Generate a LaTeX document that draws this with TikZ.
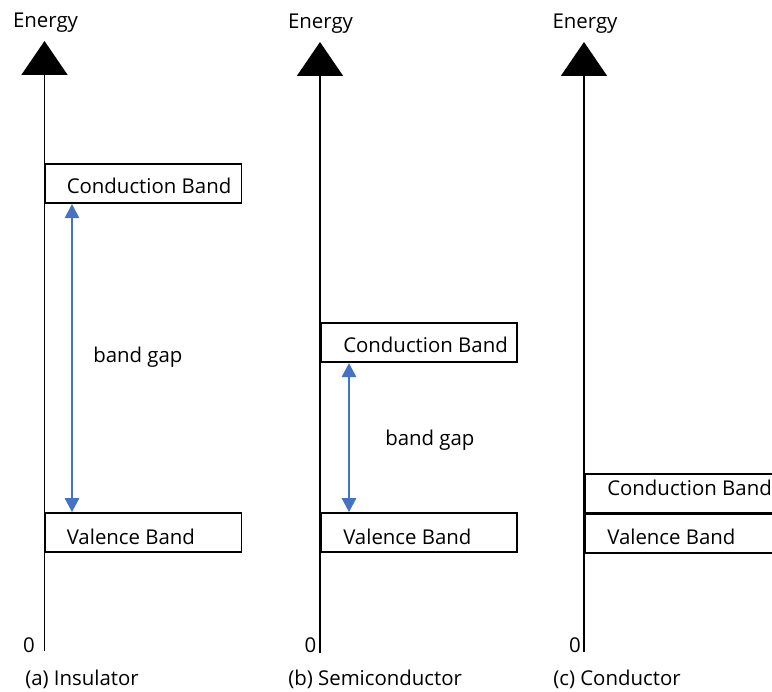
\documentclass[tikz,border=0pt]{standalone}
\usepackage{fontspec}
\setmainfont{Open Sans}
\usetikzlibrary{calc,arrows.meta}
\definecolor{gapblue}{HTML}{4472C4}
\tikzset{
  lbl/.style={inner sep=0pt, font=\fontsize{15.3}{18}\selectfont},
  band/.style={draw, line width=1.4pt, inner sep=0pt, minimum width=147pt, minimum height=29.5pt, anchor=north west},
  bandtext/.style={lbl, anchor=base west},
  axis/.style={line width=1.4pt, -{Triangle[width=34.5pt,length=25.5pt]}},
  gaparrow/.style={gapblue, line width=0.8pt, {Triangle[width=11pt,length=10.5pt]}-{Triangle[width=11pt,length=10.5pt]}}
}

\begin{document}
\begin{tikzpicture}[x=0.75pt, y=-0.75pt]
			%%%%% START %%%%%
			\useasboundingbox (0,0) rectangle (772,692);
			\clip (0,0) rectangle (772,692);
			
			% (a) insulator
			\coordinate (botA) at (44.5,651);
			\coordinate (topA) at (44.5,41);
			\draw[axis] (botA) -- (topA);
			\node[lbl] (enA) at (45.5,22.5) {Energy};
			\node[lbl] (zeroA) at (29,645) {0};
			\node[band] (condA) at (44.5,163) {};
			\node[band] (valA) at (44.5,512) {};
			\node[bandtext] (condtA) at ($(condA.south west)+(22,-11)$) {Conduction Band};
			\node[bandtext] (valtA) at ($(valA.south west)+(22,-9)$) {Valence Band};
			\coordinate (gA) at (72,0);
			\draw[gaparrow] (condA.south -| gA) -- (valA.north -| gA);
			\node[lbl, anchor=west] (gaptA) at (93,357) {band gap};
			\node[lbl, anchor=west] (capA) at (25,679.5) {(a) Insulator};
			
			% (b) semiconductor
			\coordinate (botB) at (320,653);
			\coordinate (topB) at (320,42);
			\draw[axis] (botB) -- (topB);
			\node[lbl] (enB) at (320.5,23.5) {Energy};
			\node[lbl] (zeroB) at (310.5,645) {0};
			\node[band] (condB) at (320,322) {};
			\node[band] (valB) at (320,512) {};
			\node[bandtext] (condtB) at ($(condB.south west)+(23,-11)$) {Conduction Band};
			\node[bandtext] (valtB) at ($(valB.south west)+(23,-9)$) {Valence Band};
			\coordinate (gB) at (349,0);
			\draw[gaparrow] (condB.south -| gB) -- (valB.north -| gB);
			\node[lbl, anchor=west] (gaptB) at (385,440) {band gap};
			\node[lbl, anchor=west] (capB) at (288,679.5) {(b) Semiconductor};
			
			% (c) conductor
			\coordinate (botC) at (584,652);
			\coordinate (topC) at (584,42);
			\draw[axis] (botC) -- (topC);
			\node[lbl] (enC) at (585,23.5) {Energy};
			\node[lbl] (zeroC) at (575,645) {0};
			\node[band] (condC) at (584,473) {};
			\node[band] (valC) at (584,513) {};
			\node[bandtext] (condtC) at ($(condC.south west)+(23,-19)$) {Conduction Band};
			\node[bandtext] (valtC) at ($(valC.south west)+(23,-10)$) {Valence Band};
			\node[lbl, anchor=west] (capC) at (553,679.5) {(c) Conductor};
			%%%%% END %%%%%
\end{tikzpicture}
\end{document}
